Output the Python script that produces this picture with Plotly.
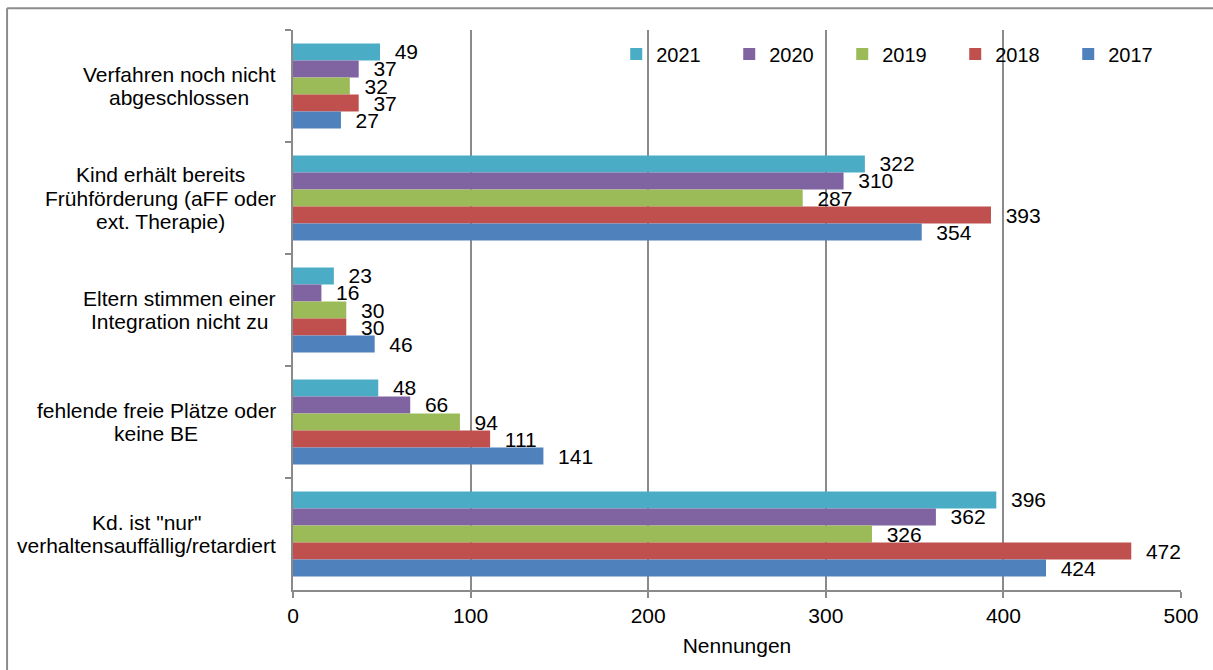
import plotly.graph_objects as go

# Gründe (top to bottom) and Nennungen per year
category_lines = [
    ["Verfahren noch nicht", "abgeschlossen"],
    ["Kind erhält bereits", "Frühförderung (aFF oder", "ext. Therapie)"],
    ["Eltern stimmen einer", "Integration nicht zu"],
    ["fehlende freie Plätze oder", "keine BE"],
    ["Kd. ist \"nur\"", "verhaltensauffällig/retardiert"],
]
cat_ids = ["c1", "c2", "c3", "c4", "c5"]

years = ["2021", "2020", "2019", "2018", "2017"]
values_2021 = [49, 322, 23, 48, 396]
values_2020 = [37, 310, 16, 66, 362]
values_2019 = [32, 287, 30, 94, 326]
values_2018 = [37, 393, 30, 111, 472]
values_2017 = [27, 354, 46, 141, 424]
series = [values_2021, values_2020, values_2019, values_2018, values_2017]
colors = ["#4BACC6", "#8064A2", "#9BBB59", "#C0504D", "#4F81BD"]

x_ticks = [0, 100, 200, 300, 400, 500]

FONT = "Liberation Sans, Arial, sans-serif"
FS = 21
GRID = "#8a8a8a"
LINE_H = 23.5
PLOT_L, PLOT_W = 293, 888
# horizontal centre (px) of each label block; blocks end next to the axis
label_centres_px = [179, 160, 179, 156, 146]

fig = go.Figure()
for year, vals, col in zip(years, series, colors):
    fig.add_trace(go.Bar(
        name=year,
        y=cat_ids,
        x=vals,
        orientation="h",
        marker=dict(color=col, line=dict(width=0)),
        text=vals,
        texttemplate="\u00a0\u00a0%{x}",
        textposition="outside",
        constraintext="none",
        cliponaxis=False,
        textfont=dict(family=FONT, size=FS, color="#000000"),
    ))

# Category labels: each line centred within its block
annotations = []
for cid, lines, cx in zip(cat_ids, category_lines, label_centres_px):
    n = len(lines)
    for i, line in enumerate(lines):
        annotations.append(dict(
            xref="paper", yref="y", x=(cx - PLOT_L) / PLOT_W, y=cid,
            xanchor="center", yanchor="middle",
            yshift=((n - 1) / 2 - i) * LINE_H,
            text=line, showarrow=False, align="center",
            font=dict(family=FONT, size=FS, color="#000000"),
        ))

# Outer frame (left and top edges)
shapes = [
    dict(type="line", xref="paper", yref="paper", x0=-0.322, x1=-0.322,
         y0=1.039, y1=-0.2, line=dict(color="#8c8c8c", width=2)),
    dict(type="line", xref="paper", yref="paper", x0=-0.322, x1=1.1,
         y0=1.039, y1=1.039, line=dict(color="#8c8c8c", width=2)),
]

fig.update_layout(
    width=1213, height=670,
    margin=dict(l=PLOT_L, r=32, t=30, b=80),
    paper_bgcolor="white", plot_bgcolor="white",
    barmode="group", bargap=0.24, bargroupgap=0,
    font=dict(family=FONT, size=FS, color="#000000"),
    showlegend=True,
    legend=dict(
        orientation="h", x=0.364, y=0.957, xanchor="left", yanchor="middle",
        entrywidth=68, entrywidthmode="pixels", itemwidth=30,
        font=dict(family=FONT, size=20, color="#000000"),
        bgcolor="rgba(0,0,0,0)",
    ),
    annotations=annotations,
    shapes=shapes,
)

fig.update_xaxes(
    range=[0, 500], tickvals=x_ticks, ticktext=[str(t) for t in x_ticks],
    showgrid=True, gridcolor=GRID, gridwidth=1.5,
    showline=True, linecolor=GRID, linewidth=1.5,
    ticks="outside", ticklen=6, tickcolor=GRID, tickwidth=1.5,
    zeroline=False,
    title=dict(text="Nennungen", font=dict(family=FONT, size=FS), standoff=12),
    tickfont=dict(family=FONT, size=FS),
)
fig.update_yaxes(
    type="category", categoryorder="array", categoryarray=cat_ids,
    autorange="reversed",
    showticklabels=False, showgrid=False,
    showline=True, linecolor=GRID, linewidth=1.5,
    ticks="outside", ticklen=6, tickcolor=GRID, tickwidth=1.5,
    tickson="boundaries",
)

fig.write_html("out.html")
